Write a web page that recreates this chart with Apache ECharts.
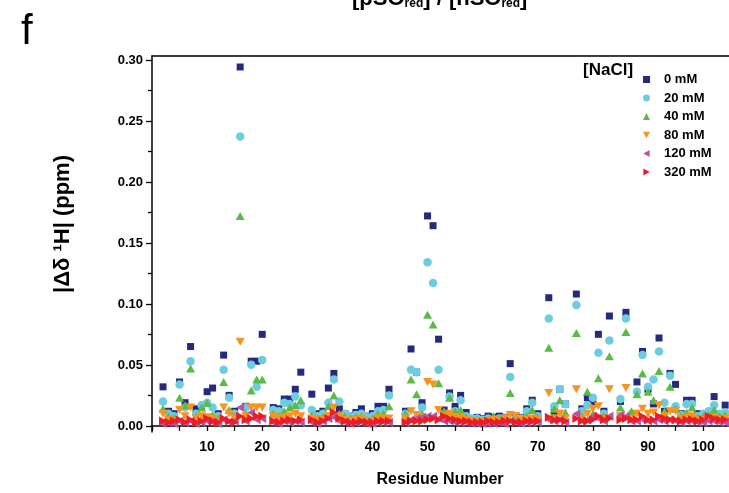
<!DOCTYPE html>
<html><head><meta charset="utf-8">
<script src="https://cdn.jsdelivr.net/npm/echarts@6/dist/echarts.min.js"></script>
<style>html,body{margin:0;padding:0;background:#fff}#c{width:729px;height:493px}</style>
</head><body><div id="c"></div>
<script>
const residues = [2,3,4,5,6,7,8,9,10,11,12,13,14,15,16,17,18,19,20,
22,23,24,25,26,27,
29,30,31,32,33,34,35,36,37,38,39,40,41,42,43,
46,47,48,49,50,51,52,53,54,55,56,57,58,59,60,61,62,63,64,65,66,67,68,69,70,
72,73,74,75,
77,78,79,80,81,82,83,
85,86,87,88,89,90,91,92,93,94,95,96,97,98,99,100,101,102,103,104,105];

const nacl0 = [0.032,0.012,0.010,0.036,0.019,0.065,0.014,0.016,0.028,0.031,0.010,0.058,0.025,0.012,0.294,0.016,0.053,0.053,0.075,
0.015,0.014,0.022,0.022,0.030,0.044,
0.026,0.010,0.012,0.031,0.043,0.014,0.010,0.008,0.011,0.014,0.008,0.010,0.016,0.016,0.030,
0.012,0.063,0.044,0.019,0.172,0.164,0.071,0.013,0.027,0.016,0.025,0.011,0.006,0.007,0.006,0.008,0.007,0.008,0.007,0.051,0.008,0.007,0.014,0.021,0.010,
0.105,0.012,0.030,0.018,
0.108,0.014,0.023,0.018,0.075,0.012,0.090,
0.020,0.093,0.008,0.036,0.061,0.030,0.018,0.072,0.012,0.043,0.034,0.010,0.021,0.021,0.010,0.008,0.010,0.024,0.010,0.017,0.012];

const nacl20 = [0.020,0.010,0.008,0.034,0.015,0.053,0.010,0.017,0.019,0.015,0.008,0.046,0.023,0.010,0.237,0.015,0.050,0.032,0.054,
0.013,0.012,0.019,0.018,0.024,0.017,
0.013,0.008,0.010,0.019,0.038,0.020,0.010,0.007,0.009,0.010,0.007,0.008,0.012,0.013,0.025,
0.010,0.046,0.044,0.015,0.134,0.117,0.046,0.010,0.024,0.012,0.021,0.008,0.006,0.006,0.005,0.006,0.005,0.006,0.006,0.040,0.006,0.006,0.012,0.019,0.008,
0.088,0.016,0.030,0.018,
0.099,0.012,0.017,0.023,0.060,0.010,0.070,
0.022,0.088,0.010,0.028,0.058,0.032,0.038,0.061,0.019,0.041,0.016,0.009,0.018,0.018,0.008,0.010,0.012,0.017,0.010,0.011,0.008];

const nacl40 = [0.014,0.008,0.006,0.023,0.017,0.047,0.008,0.015,0.019,0.009,0.006,0.036,0.013,0.008,0.172,0.010,0.029,0.038,0.038,
0.010,0.008,0.012,0.015,0.017,0.021,
0.009,0.006,0.007,0.016,0.025,0.010,0.008,0.006,0.007,0.008,0.005,0.006,0.010,0.010,0.016,
0.010,0.038,0.026,0.010,0.091,0.083,0.035,0.012,0.023,0.012,0.013,0.007,0.005,0.005,0.004,0.005,0.008,0.006,0.005,0.027,0.006,0.005,0.008,0.013,0.007,
0.064,0.014,0.021,0.011,
0.076,0.008,0.028,0.010,0.039,0.008,0.057,
0.015,0.077,0.012,0.026,0.043,0.028,0.021,0.045,0.012,0.032,0.014,0.008,0.011,0.015,0.007,0.008,0.009,0.013,0.008,0.009,0.006];

const nacl80 = [0.010,0.005,0.004,0.013,0.008,0.015,0.006,0.008,0.007,0.006,0.004,0.015,0.010,0.006,0.069,0.008,0.015,0.015,0.015,
0.008,0.006,0.007,0.008,0.010,0.008,
0.006,0.005,0.005,0.008,0.015,0.008,0.005,0.004,0.005,0.006,0.004,0.004,0.006,0.006,0.006,
0.006,0.012,0.009,0.007,0.036,0.034,0.013,0.008,0.010,0.007,0.007,0.005,0.004,0.004,0.003,0.004,0.005,0.004,0.006,0.009,0.008,0.005,0.005,0.006,0.005,
0.027,0.006,0.010,0.006,
0.030,0.006,0.010,0.014,0.016,0.006,0.030,
0.008,0.031,0.006,0.010,0.014,0.010,0.011,0.017,0.008,0.012,0.012,0.006,0.007,0.008,0.005,0.005,0.006,0.007,0.005,0.006,0.004];

const nacl120 = [0.002,0.003,0.002,0.004,0.003,0.004,0.002,0.003,0.004,0.003,0.002,0.005,0.003,0.004,0.015,0.004,0.011,0.005,0.006,
0.003,0.002,0.004,0.003,0.004,0.003,
0.003,0.002,0.004,0.006,0.007,0.004,0.003,0.002,0.003,0.003,0.002,0.002,0.003,0.003,0.003,
0.003,0.005,0.006,0.007,0.008,0.008,0.006,0.004,0.004,0.003,0.003,0.003,0.002,0.002,0.002,0.002,0.002,0.003,0.002,0.004,0.003,0.002,0.003,0.003,0.003,
0.005,0.004,0.005,0.003,
0.010,0.004,0.005,0.008,0.006,0.004,0.008,
0.009,0.008,0.004,0.004,0.005,0.004,0.004,0.005,0.004,0.005,0.004,0.003,0.004,0.004,0.003,0.003,0.004,0.004,0.003,0.003,0.003];

const nacl320 = [0.004,0.003,0.004,0.005,0.003,0.005,0.003,0.004,0.006,0.004,0.003,0.006,0.004,0.003,0.008,0.005,0.006,0.008,0.008,
0.004,0.003,0.004,0.005,0.004,0.005,
0.005,0.003,0.004,0.006,0.011,0.006,0.004,0.003,0.003,0.004,0.003,0.003,0.004,0.004,0.004,
0.003,0.004,0.004,0.004,0.005,0.006,0.005,0.008,0.006,0.005,0.004,0.004,0.003,0.003,0.003,0.004,0.003,0.003,0.004,0.004,0.003,0.003,0.004,0.004,0.004,
0.007,0.005,0.005,0.004,
0.006,0.004,0.004,0.005,0.008,0.005,0.006,
0.005,0.006,0.005,0.005,0.008,0.005,0.005,0.008,0.006,0.005,0.005,0.004,0.005,0.005,0.004,0.005,0.008,0.006,0.005,0.005,0.004];

const seriesNames = ['0 mM','20 mM','40 mM','80 mM','120 mM','320 mM'];
const yTicks = [0, 0.05, 0.10, 0.15, 0.20, 0.25, 0.30];
const xLabels = [10, 20, 30, 40, 50, 60, 70, 80, 90, 100];

const seriesValues = [nacl0, nacl20, nacl40, nacl80, nacl120, nacl320];
const colors = ['#252a7e','#6dcde0','#5cba48','#f7931e','#b655a8','#ec1c24'];
const symbols = ['rect','circle','triangle','path://M0,0L10,0L5,9Z','path://M9,0L9,10L0,5Z','path://M0,0L9,5L0,10Z'];
const sizes = [7, 8.5, [9,8], [9,8], [8,9], [8,9]];

const F = '"Liberation Sans", Arial, sans-serif';
const chart = echarts.init(document.getElementById('c'), null, {renderer:'canvas'});

const series = seriesValues.map((vals, i) => ({
  name: seriesNames[i],
  type: 'scatter',
  xAxisIndex: 0, yAxisIndex: 0,
  symbol: symbols[i],
  symbolSize: sizes[i],
  itemStyle: {color: colors[i], opacity: 1},
  data: residues.map((r, k) => [r, vals[k]]),
  emphasis: {disabled: true}
}));

chart.setOption({
  animation: false,
  backgroundColor: '#fff',
  grid: [
    {left: 152, top: 56, right: 0, height: 376},
    {left: 152, top: 60, right: 0, height: 366}
  ],
  xAxis: [
    {gridIndex: 0, type: 'value', min: 0, max: 104.7, interval: 5,
     axisLine: {lineStyle: {color: '#000', width: 1.5}},
     axisTick: {length: 5, lineStyle: {color: '#000', width: 1.3}},
     splitLine: {show: false},
     axisLabel: {color: '#000', fontFamily: F, fontWeight: 'bold', fontSize: 14, margin: 8,
       showMaxLabel: false,
       formatter: v => xLabels.indexOf(Math.round(v)) >= 0 && Math.abs(v - Math.round(v)) < 1e-6 ? String(Math.round(v)) : ''}},
    {gridIndex: 1, type: 'value', min: 0, max: 104.7, show: false},
    {gridIndex: 0, type: 'value', position: 'top', min: 0, max: 104.7,
     axisLine: {show: true, lineStyle: {color: '#000', width: 1.5}},
     axisTick: {show: false}, axisLabel: {show: false}, splitLine: {show: false}}
  ],
  yAxis: [
    {gridIndex: 0, type: 'value', min: -0.005, max: 0.303,
     axisLine: {show: true, lineStyle: {color: '#000', width: 1.5}},
     axisTick: {show: false}, axisLabel: {show: false}, splitLine: {show: false}},
    {gridIndex: 1, type: 'value', min: 0, max: 0.3, interval: 0.05,
     axisLine: {show: false},
     axisTick: {show: true, length: 6, lineStyle: {color: '#000', width: 1.3}},
     minorTick: {show: true, splitNumber: 2, length: 4, lineStyle: {color: '#000', width: 1.3}},
     splitLine: {show: false},
     axisLabel: {color: '#000', fontFamily: F, fontWeight: 'bold', fontSize: 13, margin: 9,
       formatter: v => yTicks.indexOf(Math.round(v*100)/100) >= 0 ? v.toFixed(2) : ''}}
  ],
  legend: {
    orient: 'vertical', left: 643, top: 73, padding: 0,
    itemWidth: 7, itemHeight: 7, itemGap: 5.5,
    data: seriesNames,
    textStyle: {color: '#000', fontFamily: F, fontWeight: 'bold', fontSize: 13, padding: [0,0,0,9]},
    selectedMode: false
  },
  graphic: [
    {type: 'text', left: 21, top: 11, style: {text: 'f', font: '42px ' + F, fill: '#000'}},
    {type: 'text', x: 583, y: 70, style: {text: '[NaCl]', font: 'bold 17px ' + F, fill: '#000', textVerticalAlign: 'middle'}},
    {type: 'text', x: 63, y: 224, rotation: Math.PI/2,
     style: {text: '|Δδ ¹H| (ppm)', font: 'bold 22px ' + F, fill: '#000', textAlign: 'center', textVerticalAlign: 'middle'}},
    {type: 'text', x: 440, y: 480, style: {text: 'Residue Number', font: 'bold 16px ' + F, fill: '#000', textAlign: 'center', textVerticalAlign: 'middle'}},
    {type: 'text', x: 352, y: -13,
     style: {text: '{m|[pSO}{s|red}{m|] / [hSO}{s|red}{m|]}', fill: '#000',
       rich: {m: {font: 'bold 22px ' + F, fill: '#000'}, s: {font: 'bold 12px ' + F, fill: '#000', padding: [11,0,0,0]}}}}
  ],
  series: series
});
</script></body></html>
